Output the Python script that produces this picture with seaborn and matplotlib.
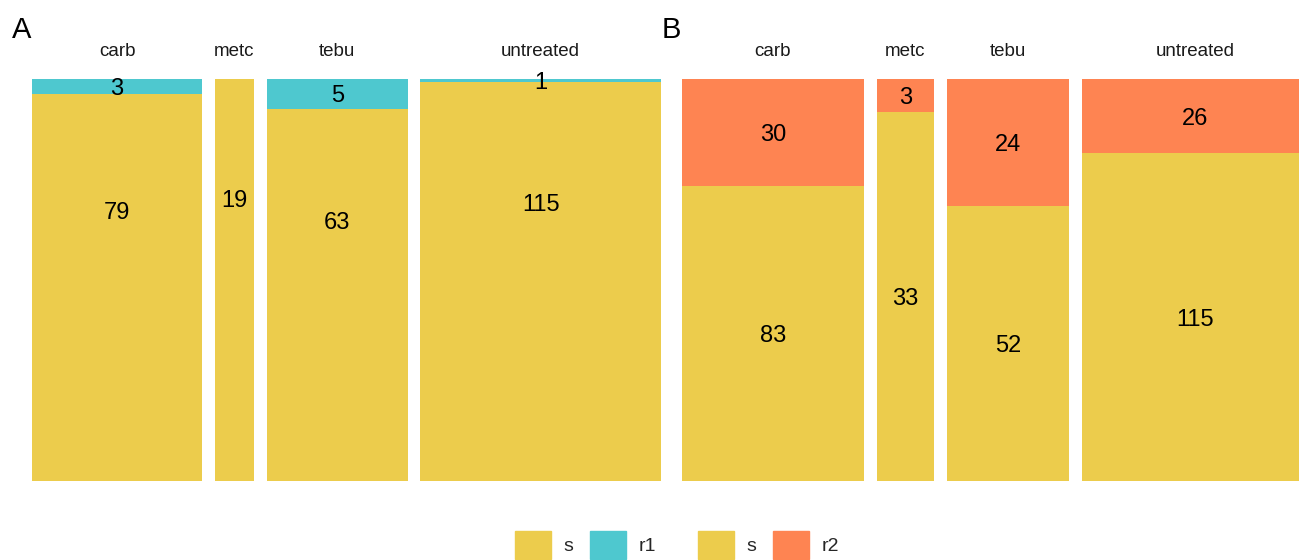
import matplotlib
matplotlib.use("Agg")
import matplotlib.pyplot as plt
from matplotlib.patches import Patch
from matplotlib.transforms import offset_copy
import seaborn as sns

sns.set_theme(style="white")
plt.rcParams["font.family"] = ["Liberation Sans", "DejaVu Sans"]

# Treatment groups and counts per resistance status
treatments = ["carb", "metc", "tebu", "untreated"]
a_susceptible = [79, 19, 63, 115]
a_resistant = [3, 0, 5, 1]
b_susceptible = [83, 33, 52, 115]
b_resistant = [30, 3, 24, 26]

# Depth (from the top) at which the susceptible counts are printed in panel A
a_s_label_depth = [0.326, 0.2985, 0.351, 0.308]

pal = sns.color_palette(["#ECCC4C", "#4EC8CF", "#FE8452"])
col_s, col_r1, col_r2 = pal[0], pal[1], pal[2]

W, H = 1299, 560
fig = plt.figure(figsize=(W / 100, H / 100), dpi=100)

GAP = 0.02


def mosaic(ax, susc, resist, rcolor, s_depth=None):
    totals = [s + r for s, r in zip(susc, resist)]
    grand = sum(totals)
    avail = 1 - GAP * (len(totals) - 1)
    # counts are drawn with their digits centred on the anchor point
    num_tr = offset_copy(ax.transData, fig=fig, x=0, y=-2.5, units="dots")
    x = 0.0
    for i, (name, s, r, t) in enumerate(zip(treatments, susc, resist, totals)):
        w = avail * t / grand
        fs = s / t
        ax.bar(x, fs, width=w, bottom=0, align="edge", color=col_s, linewidth=0)
        if r > 0:
            ax.bar(x, 1 - fs, width=w, bottom=fs, align="edge", color=rcolor, linewidth=0)
        xc = x + w / 2
        ys = fs / 2 if s_depth is None else 1 - s_depth[i]
        ax.text(xc, ys, str(s), ha="center", va="center", fontsize=17,
                color="black", transform=num_tr)
        if r > 0:
            ax.text(xc, fs + (1 - fs) / 2, str(r), ha="center", va="center",
                    fontsize=17, color="black", transform=num_tr)
        ax.text(xc, 1.0 + 27 / 402, name, ha="center", va="center",
                fontsize=13.5, color="#1A1A1A", clip_on=False)
        x += w + GAP
    ax.set_xlim(0, 1)
    ax.set_ylim(0, 1)
    ax.axis("off")


bottom = (H - 481) / H
height = 402 / H
ax_a = fig.add_axes([32 / W, bottom, 629 / W, height])
ax_b = fig.add_axes([682 / W, bottom, 627 / W, height])

mosaic(ax_a, a_susceptible, a_resistant, col_r1, a_s_label_depth)
mosaic(ax_b, b_susceptible, b_resistant, col_r2)

fig.text(12 / W, 1 - 30 / H, "A", fontsize=21, ha="left", va="center", color="black")
fig.text(662 / W, 1 - 30 / H, "B", fontsize=21, ha="left", va="center", color="black")

leg_kw = dict(frameon=False, ncol=2, fontsize=14, handlelength=1.85,
              handleheight=1.85, handletextpad=0.65, columnspacing=0.85,
              borderpad=0, borderaxespad=0, loc="center left")
fig.legend(handles=[Patch(color=col_s, label="s"), Patch(color=col_r1, label="r1")],
           bbox_to_anchor=(515 / W, 1 - 545 / H), **leg_kw)
fig.legend(handles=[Patch(color=col_s, label="s"), Patch(color=col_r2, label="r2")],
           bbox_to_anchor=(698 / W, 1 - 545 / H), **leg_kw)

fig.savefig("out.png", dpi=100)
